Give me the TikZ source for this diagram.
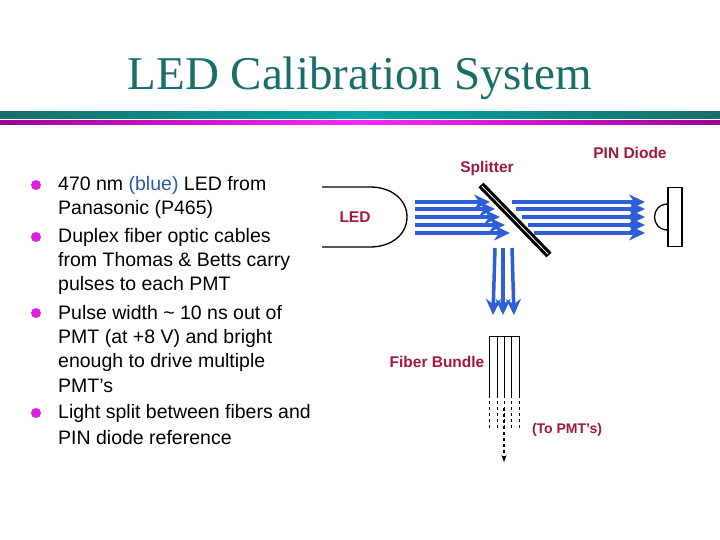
\documentclass[tikz,border=0pt]{standalone}
\usepackage{fontspec}
\setmainfont{Liberation Sans}
\newfontfamily\titlefont{Liberation Serif}
\usetikzlibrary{arrows.meta,shadings}
\definecolor{teal1}{HTML}{1A6E6A}
\definecolor{lbl}{HTML}{A3173F}
\definecolor{beam}{HTML}{2E5FD8}
\definecolor{bul}{HTML}{E020E0}
\definecolor{bluew}{HTML}{2E5AA8}
\begin{document}
\begin{tikzpicture}[x=1pt,y=-1pt,
  txt/.style={anchor=west,font=\fontsize{19.5}{19.5}\selectfont,inner sep=0},
  lab/.style={font=\bfseries\fontsize{15.5}{15.5}\selectfont,text=lbl,inner sep=0},
  ray/.style={draw=beam,line width=3.5pt,-{Stealth[length=16pt,width=15pt]}},
  bullet/.style={circle,fill=bul,minimum size=10pt,inner sep=0}]
\useasboundingbox (0,0) rectangle (720,540);
\node[font=\titlefont\fontsize{47}{47}\selectfont,text=teal1] (title) at (360,78) {LED Calibration System};
\shade[left color=teal1,right color=teal1,middle color=teal!70!cyan] (0,112) rectangle (720,119);
\shade[left color=violet!80!magenta,right color=violet!80!magenta,middle color=magenta!85!white] (0,121) rectangle (720,125);
% bullets
\node[bullet] (b1) at (36,185) {};
\node[bullet] (b2) at (36,237) {};
\node[bullet] (b3) at (36,313) {};
\node[bullet] (b4) at (36,413) {};
\node[txt] (t1) at (58,185) {470 nm \textcolor{bluew}{(blue)} LED from};
\node[txt] (t2) at (58,209) {Panasonic (P465)};
\node[txt] (t3) at (58,237) {Duplex fiber optic cables};
\node[txt] (t4) at (58,261) {from Thomas \& Betts carry};
\node[txt] (t5) at (58,285) {pulses to each PMT};
\node[txt] (t6) at (58,313) {Pulse width \textasciitilde{} 10 ns out of};
\node[txt] (t7) at (58,338) {PMT (at +8 V) and bright};
\node[txt] (t8) at (58,362) {enough to drive multiple};
\node[txt] (t9) at (58,386) {PMT’s};
\node[txt] (t10) at (58,413) {Light split between fibers and};
\node[txt] (t11) at (58,438) {PIN diode reference};
% LED
\draw[line width=1.3pt] (322,187) -- (370,187) .. controls (392,187) and (407,200) .. (407,217) .. controls (407,234) and (392,247) .. (370,247) -- (322,247);
\node[lab] (led) at (355,217) {LED};
% beams
\foreach \y/\xe in {202/490,209/495,217/500,225/505,233/510}{
  \draw[ray] (415,\y) -- (\xe,\y);
}
\foreach \y/\xs in {202/512,209/516,217/522,225/528,233/534}{
  \draw[ray] (\xs,\y) -- (645,\y);
}
% splitter
\draw[line width=7pt] (481,185) -- (549,255);
\draw[white,line width=0.8pt] (482,186) -- (548,254);
% down rays
\draw[ray] (495,248) -- (493,315);
\draw[ray] (503,248) -- (503,315);
\draw[ray] (512,248) -- (514,315);
% PIN diode
\node[draw,line width=1.3pt,minimum width=14pt,minimum height=59pt,inner sep=0] (pin) at (675,217) {};
\draw[line width=1.3pt] (668,204) .. controls (650,204) and (650,230) .. (668,230);
\node[lab] (spl) at (487,168) {Splitter};
\node[lab] (pinl) at (630,153) {PIN Diode};
% fiber bundle
\draw (489,336) -- (519,336);
\foreach \x in {489,497,504,511,519}{
  \draw (\x,336) -- (\x,395);
  \draw[dashed] (\x,395) -- (\x,430);
}
\coordinate (fs) at (504,408);
\coordinate (fe) at (504,462);
\draw[dashed,line width=1.3pt,-{Stealth[length=7pt]}] (fs) -- (fe);
\node[lab] (fb) at (437,362) {Fiber Bundle};
\node[lab,font=\bfseries\fontsize{14}{14}\selectfont] (pmt) at (567,430) {(To PMT’s)};
\end{tikzpicture}
\end{document}
